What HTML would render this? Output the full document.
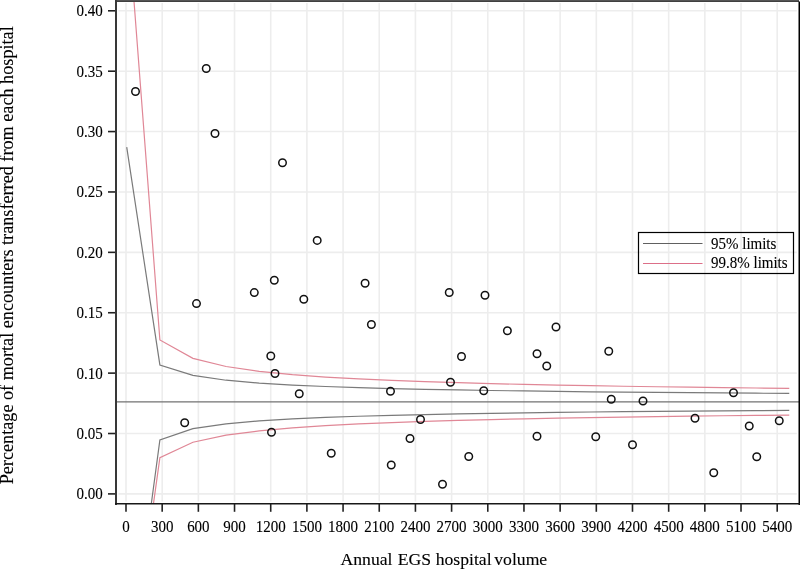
<!DOCTYPE html>
<html><head><meta charset="utf-8"><style>
html,body{margin:0;padding:0;background:#fff;}
body{width:800px;height:569px;overflow:hidden;}
svg{display:block;}
text{font-family:"Liberation Serif",serif;font-size:15px;fill:#000;stroke:#000;stroke-width:0.12px;}
</style></head><body>
<svg style="will-change:transform" width="800" height="569" viewBox="0 0 800 569">
<rect width="800" height="569" fill="#fff"/>
<g stroke="#ededed" stroke-width="1.6">
<line x1="126.00" y1="3" x2="126.00" y2="501.5"/>
<line x1="162.18" y1="3" x2="162.18" y2="501.5"/>
<line x1="198.36" y1="3" x2="198.36" y2="501.5"/>
<line x1="234.53" y1="3" x2="234.53" y2="501.5"/>
<line x1="270.71" y1="3" x2="270.71" y2="501.5"/>
<line x1="306.89" y1="3" x2="306.89" y2="501.5"/>
<line x1="343.07" y1="3" x2="343.07" y2="501.5"/>
<line x1="379.24" y1="3" x2="379.24" y2="501.5"/>
<line x1="415.42" y1="3" x2="415.42" y2="501.5"/>
<line x1="451.60" y1="3" x2="451.60" y2="501.5"/>
<line x1="487.78" y1="3" x2="487.78" y2="501.5"/>
<line x1="523.96" y1="3" x2="523.96" y2="501.5"/>
<line x1="560.13" y1="3" x2="560.13" y2="501.5"/>
<line x1="596.31" y1="3" x2="596.31" y2="501.5"/>
<line x1="632.49" y1="3" x2="632.49" y2="501.5"/>
<line x1="668.67" y1="3" x2="668.67" y2="501.5"/>
<line x1="704.84" y1="3" x2="704.84" y2="501.5"/>
<line x1="741.02" y1="3" x2="741.02" y2="501.5"/>
<line x1="777.20" y1="3" x2="777.20" y2="501.5"/>
<line x1="118.5" y1="493.90" x2="796.8" y2="493.90"/>
<line x1="118.5" y1="433.51" x2="796.8" y2="433.51"/>
<line x1="118.5" y1="373.12" x2="796.8" y2="373.12"/>
<line x1="118.5" y1="312.74" x2="796.8" y2="312.74"/>
<line x1="118.5" y1="252.35" x2="796.8" y2="252.35"/>
<line x1="118.5" y1="191.96" x2="796.8" y2="191.96"/>
<line x1="118.5" y1="131.57" x2="796.8" y2="131.57"/>
<line x1="118.5" y1="71.19" x2="796.8" y2="71.19"/>
<line x1="118.5" y1="10.80" x2="796.8" y2="10.80"/>
</g>
<defs><clipPath id="c"><rect x="116" y="0" width="683" height="504"/></clipPath></defs>
<g clip-path="url(#c)" fill="none">
<line x1="116" y1="401.9" x2="799" y2="401.9" stroke="#727272" stroke-width="1.4"/>
<polyline points="126.72,147.10 159.89,364.96 192.93,375.39 226.09,380.22 259.25,383.07 292.42,385.04 325.46,386.50 358.62,387.63 391.79,388.54 424.83,389.30 457.99,389.95 491.15,390.49 524.20,390.97 557.36,391.40 590.52,391.78 623.57,392.12 656.73,392.43 689.89,392.71 723.05,392.97 756.10,393.20 789.26,393.42" stroke="#7a7a7a" stroke-width="1.2"/>
<polyline points="126.72,687.10 159.89,439.85 192.93,428.70 226.09,423.81 259.25,420.87 292.42,418.87 325.46,417.39 358.62,416.23 391.79,415.31 424.83,414.53 457.99,413.89 491.15,413.32 524.20,412.84 557.36,412.41 590.52,412.02 623.57,411.67 656.73,411.36 689.89,411.08 723.05,410.82 756.10,410.58 789.26,410.36" stroke="#7a7a7a" stroke-width="1.2"/>
<polyline points="126.72,-93.99 159.89,339.97 192.93,358.37 226.09,366.49 259.25,371.35 292.42,374.61 325.46,377.03 358.62,378.89 391.79,380.40 424.83,381.64 457.99,382.69 491.15,383.60 524.20,384.38 557.36,385.08 590.52,385.70 623.57,386.25 656.73,386.75 689.89,387.21 723.05,387.63 756.10,388.01 789.26,388.36" stroke="#e08796" stroke-width="1.2"/>
<polyline points="126.72,694.87 159.89,457.77 192.93,442.28 226.09,435.18 259.25,430.86 292.42,427.89 325.46,425.69 358.62,423.96 391.79,422.56 424.83,421.41 457.99,420.43 491.15,419.58 524.20,418.84 557.36,418.18 590.52,417.60 623.57,417.08 656.73,416.60 689.89,416.16 723.05,415.77 756.10,415.40 789.26,415.06" stroke="#e08796" stroke-width="1.2"/>
</g>
<g fill="none" stroke="#111" stroke-width="1.5">
<circle cx="135.5" cy="91.5" r="3.75"/>
<circle cx="206.25" cy="68.5" r="3.75"/>
<circle cx="215" cy="133.5" r="3.75"/>
<circle cx="282.5" cy="162.75" r="3.75"/>
<circle cx="317.2" cy="240.4" r="3.75"/>
<circle cx="274.3" cy="280.2" r="3.75"/>
<circle cx="254.3" cy="292.6" r="3.75"/>
<circle cx="196.5" cy="303.6" r="3.75"/>
<circle cx="303.8" cy="299.2" r="3.75"/>
<circle cx="365.1" cy="283.3" r="3.75"/>
<circle cx="371.4" cy="324.5" r="3.75"/>
<circle cx="270.8" cy="356.0" r="3.75"/>
<circle cx="275" cy="373.5" r="3.75"/>
<circle cx="184.7" cy="422.8" r="3.75"/>
<circle cx="299.25" cy="393.75" r="3.75"/>
<circle cx="390.5" cy="391.25" r="3.75"/>
<circle cx="271.5" cy="432.25" r="3.75"/>
<circle cx="331.25" cy="453.25" r="3.75"/>
<circle cx="420.5" cy="419.5" r="3.75"/>
<circle cx="410" cy="438.5" r="3.75"/>
<circle cx="391.25" cy="465" r="3.75"/>
<circle cx="449.25" cy="292.5" r="3.75"/>
<circle cx="485" cy="295.25" r="3.75"/>
<circle cx="507.4" cy="330.8" r="3.75"/>
<circle cx="556" cy="327" r="3.75"/>
<circle cx="461.5" cy="356.5" r="3.75"/>
<circle cx="537" cy="353.75" r="3.75"/>
<circle cx="546.75" cy="366" r="3.75"/>
<circle cx="608.75" cy="351.25" r="3.75"/>
<circle cx="450.5" cy="382.25" r="3.75"/>
<circle cx="483.75" cy="390.75" r="3.75"/>
<circle cx="611.25" cy="399.25" r="3.75"/>
<circle cx="442.5" cy="484.25" r="3.75"/>
<circle cx="468.75" cy="456.5" r="3.75"/>
<circle cx="537" cy="436.25" r="3.75"/>
<circle cx="595.75" cy="436.75" r="3.75"/>
<circle cx="643" cy="401" r="3.75"/>
<circle cx="733.5" cy="392.75" r="3.75"/>
<circle cx="695" cy="418.25" r="3.75"/>
<circle cx="749.25" cy="426" r="3.75"/>
<circle cx="779.25" cy="420.75" r="3.75"/>
<circle cx="632.5" cy="444.75" r="3.75"/>
<circle cx="756.75" cy="456.75" r="3.75"/>
<circle cx="713.75" cy="472.75" r="3.75"/>
</g>
<g stroke="#222" stroke-width="1.6">
<line x1="126.00" y1="503.8" x2="126.00" y2="511.8"/>
<line x1="162.18" y1="503.8" x2="162.18" y2="511.8"/>
<line x1="198.36" y1="503.8" x2="198.36" y2="511.8"/>
<line x1="234.53" y1="503.8" x2="234.53" y2="511.8"/>
<line x1="270.71" y1="503.8" x2="270.71" y2="511.8"/>
<line x1="306.89" y1="503.8" x2="306.89" y2="511.8"/>
<line x1="343.07" y1="503.8" x2="343.07" y2="511.8"/>
<line x1="379.24" y1="503.8" x2="379.24" y2="511.8"/>
<line x1="415.42" y1="503.8" x2="415.42" y2="511.8"/>
<line x1="451.60" y1="503.8" x2="451.60" y2="511.8"/>
<line x1="487.78" y1="503.8" x2="487.78" y2="511.8"/>
<line x1="523.96" y1="503.8" x2="523.96" y2="511.8"/>
<line x1="560.13" y1="503.8" x2="560.13" y2="511.8"/>
<line x1="596.31" y1="503.8" x2="596.31" y2="511.8"/>
<line x1="632.49" y1="503.8" x2="632.49" y2="511.8"/>
<line x1="668.67" y1="503.8" x2="668.67" y2="511.8"/>
<line x1="704.84" y1="503.8" x2="704.84" y2="511.8"/>
<line x1="741.02" y1="503.8" x2="741.02" y2="511.8"/>
<line x1="777.20" y1="503.8" x2="777.20" y2="511.8"/>
<line x1="108" y1="493.90" x2="116" y2="493.90"/>
<line x1="108" y1="433.51" x2="116" y2="433.51"/>
<line x1="108" y1="373.12" x2="116" y2="373.12"/>
<line x1="108" y1="312.74" x2="116" y2="312.74"/>
<line x1="108" y1="252.35" x2="116" y2="252.35"/>
<line x1="108" y1="191.96" x2="116" y2="191.96"/>
<line x1="108" y1="131.57" x2="116" y2="131.57"/>
<line x1="108" y1="71.19" x2="116" y2="71.19"/>
<line x1="108" y1="10.80" x2="116" y2="10.80"/>
</g>
<rect x="115" y="0" width="684" height="1" fill="#555"/>
<rect x="115" y="1" width="684" height="1" fill="#404040"/>
<rect x="115" y="0" width="2" height="505" fill="#383838"/>
<rect x="798.5" y="1.5" width="1.5" height="503.5" fill="#000"/>
<line x1="115" y1="503.8" x2="800" y2="503.8" stroke="#181818" stroke-width="1.6"/>
<rect x="638.5" y="232.5" width="155" height="41" fill="none" stroke="#000" stroke-width="1.2"/>
<line x1="643" y1="243.5" x2="702.5" y2="243.5" stroke="#606060" stroke-width="1.1"/>
<line x1="643" y1="263.5" x2="702.5" y2="263.5" stroke="#dc6f88" stroke-width="1.1"/>
<text transform="translate(711,248.7) scale(1,1.055)">95% limits</text>
<text transform="translate(711,268.1) scale(1,1.055)">99.8% limits</text>
<text transform="translate(126.00,532.2) scale(1,1.055)" text-anchor="middle">0</text>
<text transform="translate(162.18,532.2) scale(1,1.055)" text-anchor="middle">300</text>
<text transform="translate(198.36,532.2) scale(1,1.055)" text-anchor="middle">600</text>
<text transform="translate(234.53,532.2) scale(1,1.055)" text-anchor="middle">900</text>
<text transform="translate(270.71,532.2) scale(1,1.055)" text-anchor="middle">1200</text>
<text transform="translate(306.89,532.2) scale(1,1.055)" text-anchor="middle">1500</text>
<text transform="translate(343.07,532.2) scale(1,1.055)" text-anchor="middle">1800</text>
<text transform="translate(379.24,532.2) scale(1,1.055)" text-anchor="middle">2100</text>
<text transform="translate(415.42,532.2) scale(1,1.055)" text-anchor="middle">2400</text>
<text transform="translate(451.60,532.2) scale(1,1.055)" text-anchor="middle">2700</text>
<text transform="translate(487.78,532.2) scale(1,1.055)" text-anchor="middle">3000</text>
<text transform="translate(523.96,532.2) scale(1,1.055)" text-anchor="middle">3300</text>
<text transform="translate(560.13,532.2) scale(1,1.055)" text-anchor="middle">3600</text>
<text transform="translate(596.31,532.2) scale(1,1.055)" text-anchor="middle">3900</text>
<text transform="translate(632.49,532.2) scale(1,1.055)" text-anchor="middle">4200</text>
<text transform="translate(668.67,532.2) scale(1,1.055)" text-anchor="middle">4500</text>
<text transform="translate(704.84,532.2) scale(1,1.055)" text-anchor="middle">4800</text>
<text transform="translate(741.02,532.2) scale(1,1.055)" text-anchor="middle">5100</text>
<text transform="translate(777.20,532.2) scale(1,1.055)" text-anchor="middle">5400</text>
<text transform="translate(102.8,499.40) scale(1,1.055)" text-anchor="end">0.00</text>
<text transform="translate(102.8,439.01) scale(1,1.055)" text-anchor="end">0.05</text>
<text transform="translate(102.8,378.62) scale(1,1.055)" text-anchor="end">0.10</text>
<text transform="translate(102.8,318.24) scale(1,1.055)" text-anchor="end">0.15</text>
<text transform="translate(102.8,257.85) scale(1,1.055)" text-anchor="end">0.20</text>
<text transform="translate(102.8,197.46) scale(1,1.055)" text-anchor="end">0.25</text>
<text transform="translate(102.8,137.07) scale(1,1.055)" text-anchor="end">0.30</text>
<text transform="translate(102.8,76.69) scale(1,1.055)" text-anchor="end">0.35</text>
<text transform="translate(102.8,16.30) scale(1,1.055)" text-anchor="end">0.40</text>
<text x="339.9" y="564.8" style="font-size:17.65px"><tspan dx="0.6">Annual</tspan><tspan dx="1.0"> EGS</tspan><tspan dx="0.1"> hospital</tspan><tspan dx="-1.7"> volume</tspan></text>
<text transform="translate(13.0,255.3) rotate(-90)" text-anchor="middle" style="font-size:18.2px">Percentage of mortal encounters transferred from each hospital</text>
</svg>
</body></html>
